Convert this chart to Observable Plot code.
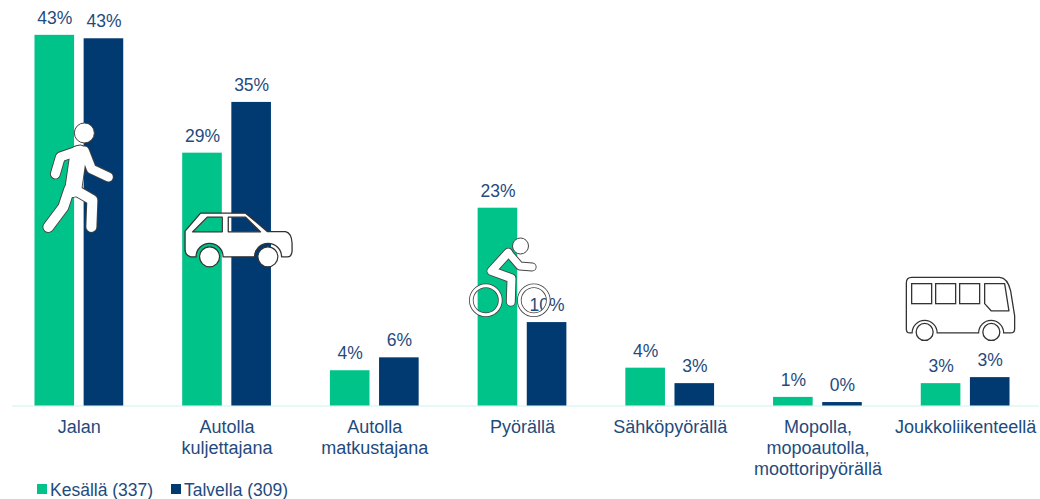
<!DOCTYPE html>
<html><head><meta charset="utf-8">
<script src="https://cdn.jsdelivr.net/npm/d3@7"></script>
<script src="https://cdn.jsdelivr.net/npm/@observablehq/plot@0.6"></script>
<style>
html,body{margin:0;padding:0;background:#fff;overflow:hidden}
#chart svg{display:block;font-family:"Liberation Sans",Arial,sans-serif}
#legend{position:relative;height:19px;font:17.5px/19px "Liberation Sans",Arial,sans-serif;color:#1f4b7d}
#legend span{position:absolute;top:1px;white-space:nowrap}
#legend i{position:absolute;top:4px;width:10px;height:10px}
</style></head><body>
<div id="chart"></div>
<div id="legend"></div>
<script>
const categories = ["Jalan","Autolla\nkuljettajana","Autolla\nmatkustajana","Pyörällä","Sähköpyörällä","Mopolla,\nmopoautolla,\nmoottoripyörällä","Joukkoliikenteellä"];
const summer = [43.1,29.4,4.1,23.0,4.4,1.0,2.6];
const winter = [42.7,35.3,5.6,9.7,2.6,0.4,3.3];
const seasons = ["Kesällä (337)","Talvella (309)"];
const colors = ["#00C389","#003A70"];
const textColor = "#1f4b7d";

const rows = categories.flatMap((c,i)=>[
  {category:c, season:seasons[0], value:summer[i]},
  {category:c, season:seasons[1], value:winter[i]}
]);

const svgUri = (vb,w,h,body)=>"data:image/svg+xml,"+encodeURIComponent(
  `<svg xmlns="http://www.w3.org/2000/svg" viewBox="${vb}" width="${w}" height="${h}">${body}</svg>`);
const outlined = (d,w)=>`<path d="${d}" fill="none" stroke="#444" stroke-width="${w+1.8}" stroke-linecap="round" stroke-linejoin="round"/>`;
const inner = (d,w)=>`<path d="${d}" fill="none" stroke="#fff" stroke-width="${w}" stroke-linecap="round" stroke-linejoin="round"/>`;

const walkerParts = [["M80,151L60,158L55,175",9],["M84,152L91,170L108,178",9],["M78,155L73,190",16],["M73,190L92,201L91,228",10],["M69,190L63,208L48,228",10]];
const walker = svgUri("38 120 80 120",80,120,
  walkerParts.map(p=>outlined(...p)).join("")+walkerParts.map(p=>inner(...p)).join("")+
  `<circle cx="84" cy="134" r="10" fill="#fff" stroke="#444" stroke-width="1"/>`);

const car = svgUri("180 205 116 66",116,66,
  `<path fill-rule="evenodd" fill="#fff" stroke="#333" stroke-width="1.3" stroke-linejoin="round" d="M184.5,230L200,212H245L267,230.5H285Q291,232 291.5,242V250Q291,255.7 287,255.7H281A13.5,13.5 0 0 0 254,255.7H222.5A13.5,13.5 0 0 0 195.5,255.7H190Q184.5,254 184.5,248ZM192,230.7L206.7,216H221.7V230.7ZM227.7,216H245L260,230.7H227.7Z"/>
   <circle cx="209" cy="255.7" r="10" fill="#fff" stroke="#333" stroke-width="1.2"/>
   <circle cx="267.3" cy="255.7" r="10" fill="#fff" stroke="#333" stroke-width="1.2"/>`);

const bikeParts = [["M506.7,251.7L490,270L510,277.3L509.3,300.7",8],["M506.7,251.7L518.3,265L530.7,266",7]];
const ring = (cx,cy)=>`<circle cx="${cx}" cy="${cy}" r="14.5" fill="none" stroke="#444" stroke-width="4.6"/><circle cx="${cx}" cy="${cy}" r="14.5" fill="none" stroke="#fff" stroke-width="3"/>`;
const bike = svgUri("464 232 88 88",88,88,
  bikeParts.map(p=>outlined(...p)).join("")+bikeParts.map(p=>inner(...p)).join("")+
  `<circle cx="519" cy="245" r="8" fill="#fff" stroke="#444" stroke-width="1"/>`+ring(484.3,299.3)+ring(532.3,299.3));

const busWindow = (x)=>`<rect x="${x}" y="282.7" width="20" height="20" fill="#fff" stroke="#333" stroke-width="1.3"/>`;
const bus = svgUri("902 272 118 70",118,70,
  `<path fill="#fff" stroke="#333" stroke-width="1.3" stroke-linejoin="round" d="M912,276.5H1000Q1008,277 1011,290L1015,315V328Q1015,332 1011,332H1004A12.5,12.5 0 0 0 979,332H937.5A12.5,12.5 0 0 0 912.5,332H910Q906.7,332 906.7,328V282Q906.7,276.5 912,276.5Z"/>`+
  busWindow(912)+busWindow(936)+busWindow(960)+
  `<path fill="#fff" stroke="#333" stroke-width="1.3" stroke-linejoin="round" d="M985,282.7H1005L1009.3,310H991.7L985,302.7Z"/>
   <circle cx="925" cy="331" r="8.5" fill="#fff" stroke="#333" stroke-width="1.3"/>
   <circle cx="991.7" cy="331" r="8.5" fill="#fff" stroke="#333" stroke-width="1.3"/>`);

const icon = (category,level,src,width,height,dx)=>Plot.image([category],{fx:d=>d,y:()=>level,src,width,height,dx});

const plot = Plot.plot({
  width:1040,height:480,
  marginTop:18.5,marginBottom:74.5,marginLeft:5,marginRight:1,
  style:{fontFamily:'"Liberation Sans",Arial,sans-serif',background:"transparent",overflow:"visible"},
  fx:{domain:categories,padding:0,round:false,label:null},
  x:{domain:seasons,paddingInner:0.194,paddingOuter:0.6,round:false,axis:null},
  y:{domain:[0,45],axis:null},
  color:{domain:seasons,range:colors},
  marks:[
    Plot.ruleY(categories.slice(0,1),{fx:d=>d,y:()=>0,stroke:"#dff7f1",strokeWidth:1.5,insetLeft:7}),
    Plot.ruleY(categories.slice(1),{fx:d=>d,y:()=>0,stroke:"#dff7f1",strokeWidth:1.5}),
    Plot.barY(rows,{fx:"category",x:"season",y:"value",fill:"season"}),
    Plot.text(rows,{fx:"category",x:"season",y:"value",text:d=>`${Math.round(d.value)}%`,dy:-17,fill:textColor,fontSize:17.5}),
    Plot.axisFx({anchor:"bottom",tickSize:0,tickPadding:12,fontSize:18,lineHeight:1.16,color:textColor,fill:textColor,label:null}),
    icon(categories[0],26.4,walker,80,120,-1),
    icon(categories[1],19.4,car,116,66,11.5),
    icon(categories[3],15,bike,88,88,-13),
    icon(categories[6],11.4,bus,118,70,-5)
  ]
});
document.getElementById("chart").append(plot);

const legend = document.getElementById("legend");
const swatchX = [37,171], labelX = [50,184];
seasons.forEach((s,i)=>{
  const sw=document.createElement("i");
  sw.style.left=swatchX[i]+"px";sw.style.background=colors[i];
  const t=document.createElement("span");
  t.style.left=labelX[i]+"px";t.textContent=s;
  legend.append(sw,t);
});
</script>
</body></html>
